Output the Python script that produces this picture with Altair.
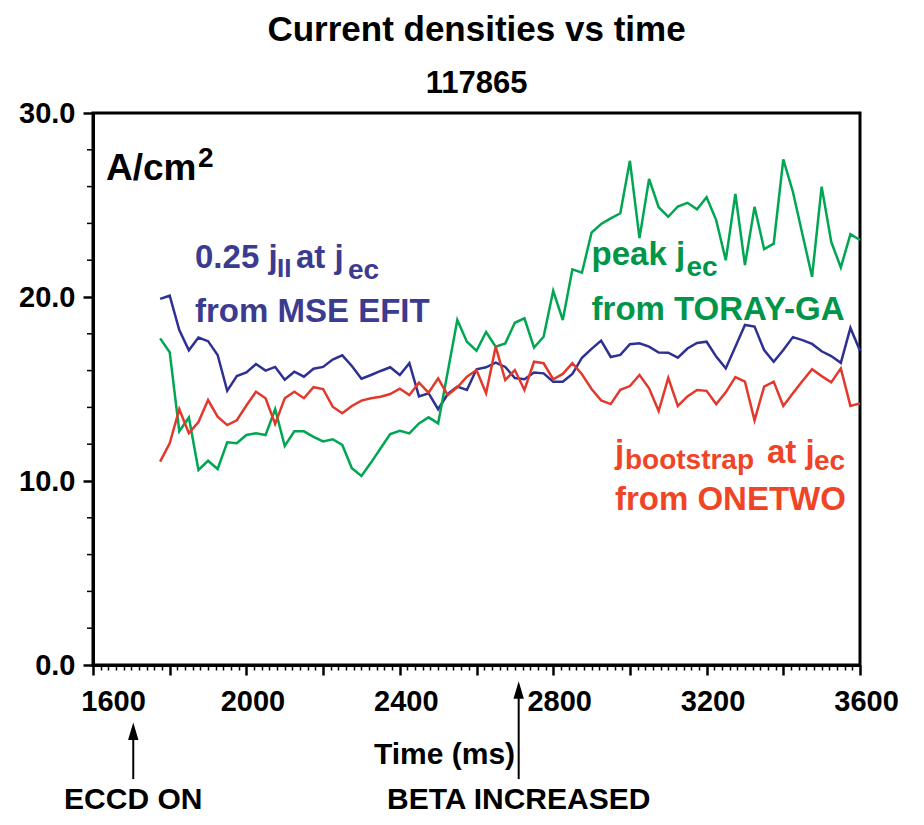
import altair as alt
import pandas as pd

FONT = "Liberation Sans"

# sample times (ms), every 25 ms from 1775 to 3600
times = list(range(1775, 3601, 25))

mse_efit = [19.9, 20.07, 18.2, 17.1, 17.8, 17.6, 16.85, 14.9, 15.7, 15.9,
            16.36, 16.0, 16.2, 15.5, 15.94, 15.67, 16.1, 16.2, 16.6, 16.83,
            16.25, 15.56, 15.76, 15.98, 16.18, 15.76, 16.4, 14.6, 14.77, 13.9,
            14.73, 15.13, 14.95, 16.07, 16.18, 16.43, 16.2, 15.6, 15.53, 15.9,
            15.85, 15.4, 15.4, 15.82, 16.7, 17.18, 17.63, 16.74, 16.85, 17.43,
            17.48, 17.3, 16.98, 16.97, 16.7, 17.2, 17.5, 17.57, 16.76, 16.12,
            17.3, 18.48, 18.39, 17.12, 16.48, 17.12, 17.82, 17.66, 17.45, 17.05,
            16.79, 16.42, 18.32, 17.08]

toray_ga = [17.75, 17.0, 12.7, 13.45, 10.6, 11.1, 10.65, 12.1, 12.05, 12.5,
            12.6, 12.5, 13.9, 11.9, 12.7, 12.7, 12.4, 12.15, 12.27, 11.96,
            10.7, 10.27, 11.0, 11.78, 12.55, 12.73, 12.59, 13.13, 13.46, 13.13,
            15.94, 18.75, 17.57, 17.08, 18.1, 17.3, 17.48, 18.6, 18.84, 17.25,
            17.84, 20.34, 18.75, 21.5, 21.32, 23.5, 23.97, 24.27, 24.55, 27.4,
            23.2, 26.42, 24.88, 24.36, 24.92, 25.12, 24.77, 25.42, 24.18, 22.0,
            25.6, 21.74, 24.9, 22.6, 22.9, 27.48, 25.72, 23.4, 21.1, 26.0,
            23.0, 21.6, 23.42, 23.1]

onetwo = [11.05, 12.05, 13.9, 12.6, 13.2, 14.4, 13.5, 13.04, 13.3, 14.1,
          14.85, 14.5, 13.1, 14.5, 14.85, 14.5, 15.1, 15.0, 14.04, 13.68,
          14.08, 14.37, 14.5, 14.58, 14.73, 15.02, 14.67, 15.34, 14.8, 15.58,
          14.67, 15.09, 15.67, 16.03, 14.77, 17.3, 15.49, 16.03, 14.95, 16.48,
          16.4, 15.53, 15.82, 16.4, 15.8, 15.0, 14.38, 14.18, 14.96, 15.16,
          15.76, 15.04, 13.8, 15.6, 14.08, 14.6, 14.95, 14.9, 14.18, 14.82,
          15.65, 15.4, 13.3, 15.13, 15.4, 14.08, 14.77, 15.43, 16.07, 15.7,
          15.36, 16.12, 14.08, 14.22]

series_names = ["MSE EFIT", "TORAY-GA", "ONETWO"]
line_colors = ["#2e3192", "#00a651", "#e2392d"]
text_colors = {"blue": "#3b3b8f", "green": "#009548", "red": "#ef4426"}

x_tick_values = list(range(1600, 3601, 20))
y_major_ticks = [0, 10, 20, 30]
y_minor_ticks = [2, 4, 6, 8, 12, 14, 16, 18, 22, 24, 26, 28]

df = pd.concat(
    [pd.DataFrame({"time": times, "value": vals, "series": name})
     for name, vals in zip(series_names, [mse_efit, toray_ga, onetwo])],
    ignore_index=True,
)

X = alt.X(
    "time:Q",
    scale=alt.Scale(domain=[1600, 3600], nice=False, zero=False),
    axis=alt.Axis(
        values=x_tick_values,
        format="d",
        labelExpr="datum.value % 400 == 0 ? datum.label : ''",
        tickSize={"condition": {"test": "datum.value % 200 == 0", "value": 10}, "value": 5},
        tickWidth={"condition": {"test": "datum.value % 200 == 0", "value": 2.5}, "value": 1.5},
        labelOffset={"condition": {"test": "datum.value == 1600", "value": 20}, "value": 6},
        labelFlush=False,
        labelOverlap=False,
        labelPadding=12,
        labelFont=FONT,
        labelFontSize=29,
        labelFontWeight="bold",
        labelColor="black",
        domainColor="black",
        domainWidth=3,
        tickColor="black",
        grid=False,
        title="Time (ms)",
        titleFont=FONT,
        titleFontSize=30,
        titleFontWeight="bold",
        titleColor="black",
        titleX=351,
        titleY=98,
        titleBaseline="alphabetic",
    ),
)

Y = alt.Y(
    "value:Q",
    scale=alt.Scale(domain=[0, 30], nice=False),
    axis=alt.Axis(
        values=y_major_ticks,
        format=".1f",
        tickSize=10,
        tickWidth=2.5,
        labelFlush=False,
        labelOverlap=False,
        labelPadding=8,
        labelFont=FONT,
        labelFontSize=29,
        labelFontWeight="bold",
        labelColor="black",
        domainColor="black",
        domainWidth=3,
        tickColor="black",
        grid=False,
        title=None,
    ),
)

lines = alt.Chart(df).mark_line(strokeWidth=2.5).encode(
    x=X,
    y=Y,
    color=alt.Color("series:N", scale=alt.Scale(domain=series_names, range=line_colors), legend=None),
)

minor_y = alt.Chart(pd.DataFrame({"value": y_minor_ticks})).mark_rule(
    color="black", strokeWidth=1.5
).encode(y=Y, x=alt.value(-6), x2=alt.value(0))


def piece(t, v, text, color, size, dx=0, dy=0, align="left"):
    d = pd.DataFrame({"time": [t], "value": [v], "label": [text]})
    return alt.Chart(d).mark_text(
        align=align, baseline="alphabetic", font=FONT, fontWeight="bold",
        fontSize=size, color=color, dx=dx, dy=dy,
    ).encode(x=X, y=Y, text="label:N")


MAIN = 33
SUB = 28
B, G, R = text_colors["blue"], text_colors["green"], text_colors["red"]

labels = [
    # A/cm^2
    piece(1634, 26.36, "A/cm", "black", 37),
    piece(1634, 26.36, "2", "black", 28, dx=92, dy=-13),
    # blue
    piece(1866, 21.58, "0.25 j", B, MAIN),
    piece(1866, 21.58, "II", B, 26, dx=82, dy=9),
    piece(1866, 21.58, "at j", B, MAIN, dx=101),
    piece(1866, 21.58, "ec", B, SUB, dx=153, dy=11),
    piece(1866, 18.64, "from MSE EFIT", B, MAIN),
    # green
    piece(2900, 21.74, "peak j", G, MAIN),
    piece(2900, 21.74, "ec", G, SUB, dx=95, dy=11),
    piece(2900, 18.75, "from TORAY-GA", G, MAIN),
    # red
    piece(2961, 10.98, "j", R, MAIN),
    piece(2961, 10.98, "bootstrap", R, SUB, dx=10, dy=6),
    piece(2961, 10.98, "at j", R, MAIN, dx=152),
    piece(2961, 10.98, "ec", R, SUB, dx=199, dy=7),
    piece(2961, 8.42, "from ONETWO", R, MAIN),
]

# event annotations below the axis
event_names = ["ECCD ON", "BETA INCREASED"]
event_times = [1705, 2710]
arrow_base = [-6.2, -6.2]
arrow_shaft_top = [-3.8, -1.6]
arrow_head = [-3.6, -1.36]
event_text_v = [-7.83, -7.83]

ev = pd.DataFrame({
    "time": event_times, "value": arrow_base, "value2": arrow_shaft_top,
    "head": arrow_head, "tv": event_text_v, "label": event_names,
})

shafts = alt.Chart(ev).mark_rule(color="black", strokeWidth=2).encode(
    x=X, y=Y, y2="value2:Q"
)
heads = alt.Chart(ev).mark_point(
    shape="M0,-1L0.6,1L-0.6,1Z", size=300, filled=True, color="black", opacity=1, strokeWidth=0
).encode(x=X, y=alt.Y("head:Q"))
event_texts = alt.Chart(ev).mark_text(
    align="center", baseline="alphabetic", font=FONT, fontWeight="bold", fontSize=30, color="black"
).encode(x=X, y=alt.Y("tv:Q"), text="label:N")

chart = alt.layer(lines, minor_y, *labels, shafts, heads, event_texts).properties(
    width=767,
    height=552,
    padding={"left": 85, "top": 105, "right": 56, "bottom": 152},
    autosize=alt.AutoSizeParams(type="none"),
    title=alt.TitleParams(
        text="Current densities vs time",
        subtitle="117865",
        font=FONT, fontSize=35, fontWeight="bold", color="black",
        subtitleFont=FONT, subtitleFontSize=31, subtitleFontWeight="bold", subtitleColor="black",
        anchor="middle", frame="group", offset=0, subtitlePadding=21,
    ),
).configure_view(stroke="black", strokeWidth=3)

chart.save("out.html", embed_options={"renderer": "svg", "actions": False})
